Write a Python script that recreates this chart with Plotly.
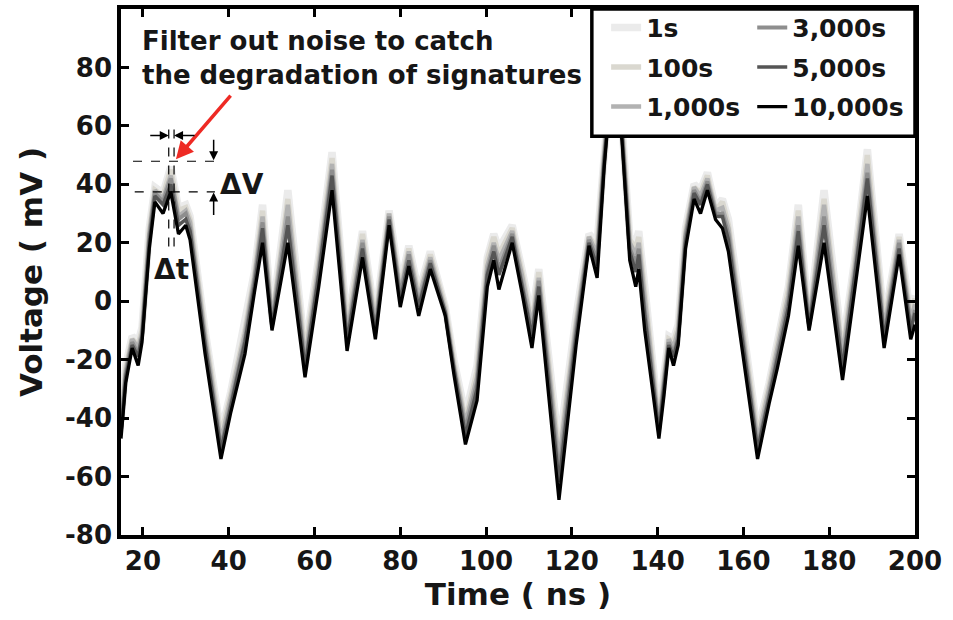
import plotly.graph_objects as go

# ---------------- data ----------------
time_ns = [14.9, 16.0, 17.5, 18.9, 19.8, 21.5, 22.8, 24.7, 26.5, 28.3, 30.0, 31.0, 34.5, 38.2, 40.5,
           43.8, 46.0, 47.9, 50.1, 53.8, 57.8, 61.0, 64.1, 67.6, 71.2, 74.2, 77.4, 80.0, 82.0, 84.3,
           87.0, 90.5, 92.5, 95.2, 97.9, 100.3, 101.8, 103.0, 106.1, 108.5, 110.7, 112.3, 117.0, 121.0,
           124.0, 125.9, 127.5, 129.5, 131.7, 133.5, 134.9, 135.6, 137.0, 140.3, 141.5, 142.6, 143.7,
           144.8, 146.5, 148.5, 150.0, 151.6, 153.5, 155.1, 156.5, 163.3, 166.0, 167.9, 170.5, 172.8,
           175.3, 178.8, 183.1, 186.0, 188.9, 192.8, 196.3, 199.0, 200.0]

v_1s = [-41, -22, -12, -14, -9, 25, 39, 37, 46, 32, 33, 29, -10, -45, -31, -8, 10, 33, -6, 38,
        -17, 15, 51, -8, 24, -6, 31, 5, 19, 3, 17, -2, -20, -39, -22, 15, 23, 18, 26, 10,
        -6, 11, -50, -5, 23, 20, 50, 85, 60, 22, 20, 24, 5, -41, -25, -12, -13, -8, 25, 40,
        38, 44, 32, 35, 28, -45, -28, -14, 5, 33, -6, 38, -16, 15, 52, -7, 23, -5, 2]
v_100s = [-42, -23, -13, -15, -10, 24, 38, 36, 45, 31, 32, 28, -11, -46, -32, -10, 9, 31, -7, 35,
          -18, 14, 49, -9, 23, -7, 30, 4, 18, 2, 16, -2, -21, -41, -24, 14, 22, 16, 25, 9,
          -8, 10, -53, -7, 22, 18, 49, 84, 59, 21, 18, 22, 3, -42, -26, -13, -14, -9, 24, 39,
          37, 43, 31, 34, 26, -46, -29, -15, 4, 31, -7, 35, -18, 14, 50, -8, 22, -6, 1]
v_1000s = [-43, -24, -13, -16, -11, 23, 38, 35, 43, 29, 31, 27, -12, -48, -33, -11, 8, 29, -7, 33,
           -20, 12, 47, -11, 21, -8, 30, 3, 17, 1, 15, -3, -22, -42, -26, 12, 20, 14, 24, 8,
           -9, 8, -55, -8, 22, 16, 49, 84, 59, 20, 16, 20, 1, -43, -27, -13, -16, -10, 23, 39,
           36, 42, 31, 32, 25, -48, -30, -17, 2, 29, -7, 33, -19, 12, 47, -10, 21, -7, -1]
v_3000s = [-44, -25, -14, -18, -12, 22, 37, 34, 42, 28, 30, 25, -14, -50, -35, -13, 7, 27, -8, 29,
           -22, 10, 45, -13, 20, -10, 29, 2, 16, -1, 14, -4, -23, -44, -28, 10, 19, 11, 23, 6,
           -11, 7, -59, -10, 21, 14, 48, 83, 58, 18, 13, 18, -3, -44, -29, -14, -18, -12, 22, 38,
           34, 41, 30, 30, 23, -50, -32, -19, 0, 26, -8, 29, -22, 10, 44, -12, 20, -9, -3]
v_5000s = [-45, -26, -15, -19, -12, 20, 36, 33, 40, 26, 28, 24, -15, -51, -36, -14, 5, 25, -9, 26,
           -23, 9, 43, -14, 18, -11, 28, 0, 14, -2, 13, -4, -23, -46, -30, 9, 17, 9, 22, 5,
           -12, 5, -62, -12, 20, 12, 47, 82, 57, 17, 10, 16, -5, -45, -30, -15, -19, -13, 20, 37,
           33, 40, 29, 29, 21, -51, -33, -20, -2, 24, -9, 26, -23, 9, 42, -13, 18, -10, -4]
v_10000s = [-47, -28, -16, -22, -14, 18, 34, 30, 37.5, 23, 26, 21, -18, -54, -38, -18, 3, 20, -10, 20,
            -26, 5, 38, -17, 15, -13, 26, -2, 12, -5, 11, -5, -25, -49, -34, 5, 14, 4, 20, 2,
            -16, 2, -68, -15, 19, 8, 45, 80, 55, 14, 5, 11, -10, -47, -32, -16, -22, -15, 18, 35,
            30, 38, 28, 25, 17, -54, -35, -23, -5, 19, -10, 20, -27, 5, 36, -16, 16, -13, -8]

series_names = ["1s", "100s", "1,000s", "3,000s", "5,000s", "10,000s"]
series_values = [v_1s, v_100s, v_1000s, v_3000s, v_5000s, v_10000s]
series_colors = ["#ebebeb", "#dad8d0", "#b2b2b2", "#8e8e8e", "#555555", "#000000"]
series_widths = [7.5, 5.5, 4.5, 4, 3.5, 3.3]
series_legend = ["legend", "legend", "legend", "legend2", "legend2", "legend2"]

x_ticks = [20, 40, 60, 80, 100, 120, 140, 160, 180, 200]
y_ticks = [-80, -60, -40, -20, 0, 20, 40, 60, 80]
y_tick_text = ["-80", "-60", "-40", "-20", "0", "20", "40", "60", "80"]

FONT = "DejaVu Sans"
TXT = "#161616"

fig = go.Figure()
for name, vals, col, w, lg in zip(series_names, series_values, series_colors, series_widths, series_legend):
    fig.add_trace(go.Scatter(x=time_ns, y=vals, mode="lines", name=name,
                             line=dict(color=col, width=w), legend=lg, legendgroup=name))

axis_common = dict(showline=True, linewidth=3.5, linecolor="black", mirror="ticks",
                   ticks="inside", ticklen=8, tickwidth=3, tickcolor="black",
                   showgrid=False, zeroline=False,
                   tickfont=dict(family=FONT, size=26, color=TXT, weight="bold"))

fig.update_layout(
    width=953, height=620,
    margin=dict(l=121, r=38, t=5, b=85),
    plot_bgcolor="white", paper_bgcolor="white",
    showlegend=True,
    xaxis=dict(range=[14.9, 200], tickvals=x_ticks,
               title=dict(text="Time ( ns )", font=dict(family=FONT, size=31, color=TXT, weight="bold"),
                          standoff=6),
               **axis_common),
    yaxis=dict(range=[-80, 100], tickvals=y_ticks, ticktext=y_tick_text,
               title=dict(text="Voltage ( mV )", font=dict(family=FONT, size=31, color=TXT, weight="bold"),
                          standoff=14),
               **axis_common),
    legend=dict(x=0.611, xanchor="left", y=1.008, yanchor="top", bgcolor="rgba(0,0,0,0)",
                borderwidth=0, itemwidth=30, tracegroupgap=4,
                font=dict(family=FONT, size=25, color=TXT, weight="bold")),
    legend2=dict(x=0.795, xanchor="left", y=1.008, yanchor="top", bgcolor="rgba(0,0,0,0)",
                 borderwidth=0, itemwidth=30, tracegroupgap=4,
                 font=dict(family=FONT, size=25, color=TXT, weight="bold")),
)

# legend frame (opaque, covers the tall peak as in the reference)
fig.add_shape(type="rect", xref="paper", yref="paper", x0=0.593, x1=1.0, y0=0.758, y1=1.0,
              fillcolor="white", line=dict(color="black", width=3.5), layer="above")

# dashed guide lines
dash_line = dict(color="black", width=1.2, dash="dash")
fig.add_shape(type="line", x0=17.7, x1=37.5, y0=47.9, y1=47.9, line=dash_line)
fig.add_shape(type="line", x0=18.1, x1=36.8, y0=37.4, y1=37.4, line=dash_line)
fig.add_shape(type="line", x0=26.03, x1=26.03, y0=18.7, y1=60.6, line=dash_line)
fig.add_shape(type="line", x0=27.27, x1=27.27, y0=18.7, y1=60.6, line=dash_line)

# annotations
fig.add_annotation(x=19.3, y=95.0, xanchor="left", yanchor="top", align="left", showarrow=False,
                   text="Filter out noise to catch<br>the degradation of signatures",
                   font=dict(family=FONT, size=26, color=TXT, weight="bold"))
fig.add_annotation(x=27.7, y=48.6, ax=56, ay=-65, showarrow=True, text="",
                   arrowcolor="#ee2a24", arrowwidth=3.5, arrowhead=2, arrowsize=1.0)
# delta-t arrows
fig.add_annotation(x=26.03, y=56.7, ax=-20, ay=0, showarrow=True, text="",
                   arrowcolor="black", arrowwidth=1.5, arrowhead=2, arrowsize=1.2)
fig.add_annotation(x=27.27, y=56.7, ax=22, ay=0, showarrow=True, text="",
                   arrowcolor="black", arrowwidth=1.5, arrowhead=2, arrowsize=1.2)
# delta-V arrows
fig.add_annotation(x=36.5, y=48.2, ax=0, ay=-22, showarrow=True, text="",
                   arrowcolor="black", arrowwidth=1.5, arrowhead=2, arrowsize=1.2)
fig.add_annotation(x=36.5, y=37.2, ax=0, ay=24, showarrow=True, text="",
                   arrowcolor="black", arrowwidth=1.5, arrowhead=2, arrowsize=1.2)
fig.add_annotation(x=43.1, y=40.1, showarrow=False, text="ΔV",
                   font=dict(family=FONT, size=28, color=TXT, weight="bold"))
fig.add_annotation(x=26.6, y=10.9, showarrow=False, text="Δt",
                   font=dict(family=FONT, size=28, color=TXT, weight="bold"))

fig.write_html("out.html")
